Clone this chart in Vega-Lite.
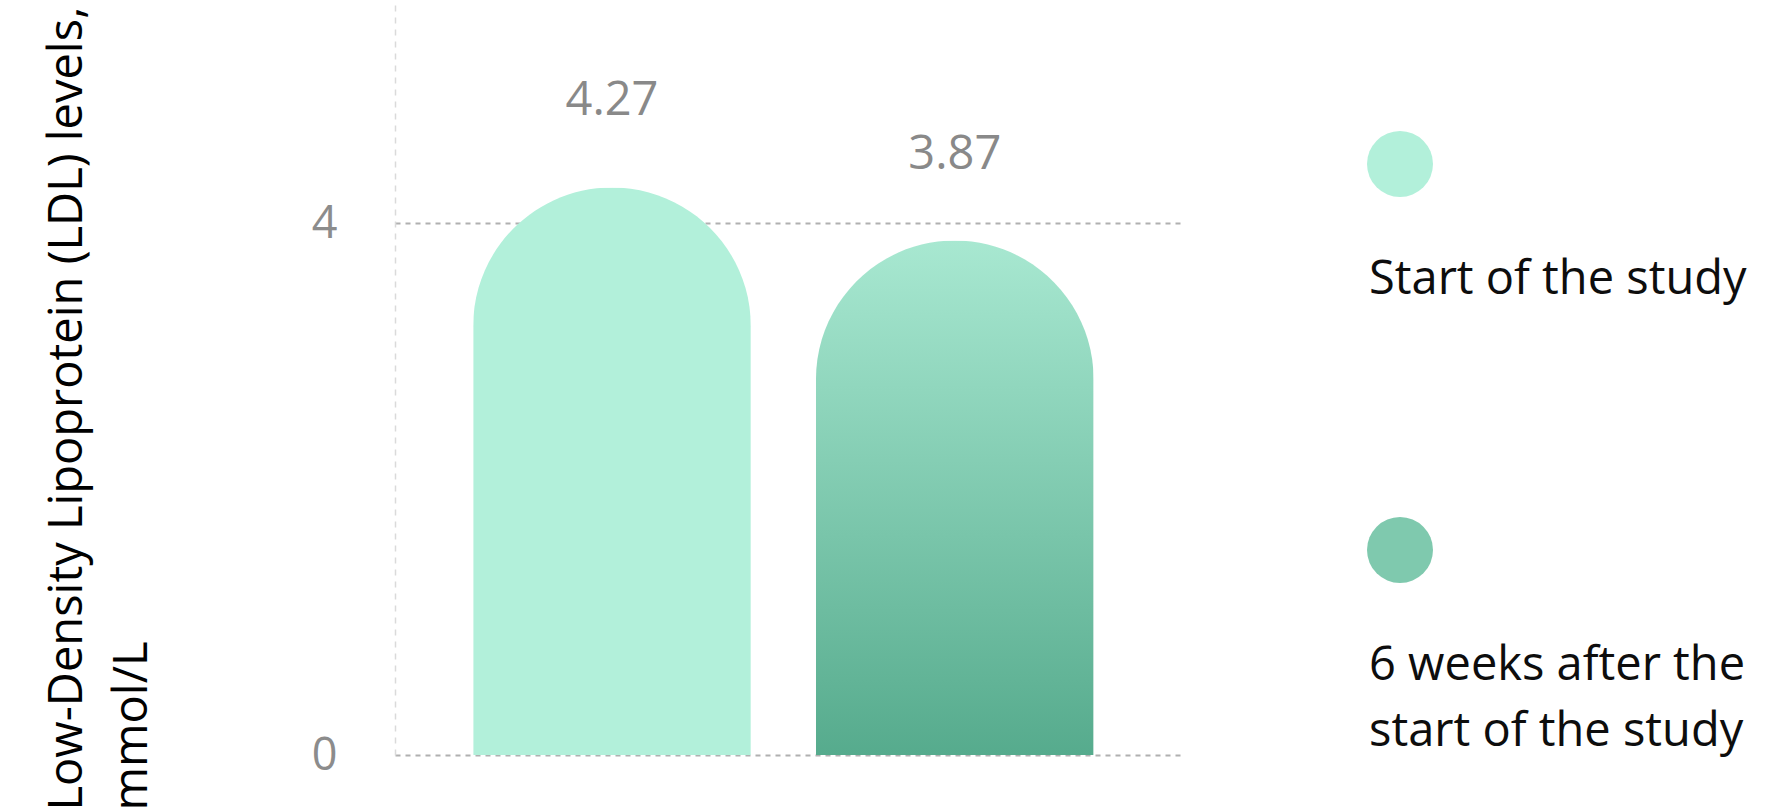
{
  "$schema": "https://vega.github.io/schema/vega-lite/v6.json",
  "width": 785,
  "height": 755,
  "autosize": {"type": "none"},
  "padding": {"left": 395, "top": 0, "right": 588, "bottom": 57},
  "background": "white",
  "data": {
    "values": [
      {"period": "Start of the study", "ldl": 4.27},
      {"period": "6 weeks after the start of the study", "ldl": 3.87}
    ]
  },
  "encoding": {
    "x": {
      "field": "period",
      "type": "nominal",
      "sort": null,
      "axis": null,
      "scale": {"paddingInner": 0.19, "paddingOuter": 0.24, "align": 0.475}
    },
    "y": {
      "field": "ldl",
      "type": "quantitative",
      "scale": {"domain": [0, 5.68], "nice": false, "zero": true},
      "axis": {
        "values": [0, 4],
        "title": ["Low-Density Lipoprotein (LDL) levels,", "mmol/L"],
        "titleFont": "Open Sans",
        "titleFontSize": 47,
        "titleFontWeight": "normal",
        "titleColor": "#000000",
        "titleAngle": -90,
        "titleAlign": "left",
        "titleBaseline": "alphabetic",
        "titleLineHeight": 65,
        "titleX": -314,
        "titleY": 810,
        "labelFont": "Open Sans",
        "labelFontSize": 45,
        "labelColor": "#8c8c8c",
        "labelPadding": 58,
        "labelOffset": -27,
        "ticks": false,
        "grid": true,
        "gridColor": "#b0b0b0",
        "gridDash": [5, 5],
        "gridWidth": 2,
        "domain": true,
        "domainColor": "#dadada",
        "domainDash": [6, 6],
        "domainWidth": 1.5
      }
    }
  },
  "layer": [
    {
      "mark": {
        "type": "bar",
        "cornerRadiusTopLeft": 139,
        "cornerRadiusTopRight": 139
      },
      "encoding": {
        "color": {
          "field": "period",
          "type": "nominal",
          "sort": null,
          "scale": {
            "domain": ["Start of the study", "6 weeks after the start of the study"],
            "range": ["#b2f0da", "#7fc9ae"]
          },
          "condition": {
            "test": "datum.period != 'Start of the study'",
            "value": {
              "gradient": "linear",
              "x1": 0, "y1": 0, "x2": 0, "y2": 1,
              "stops": [
                {"offset": 0, "color": "#a8e8d1"},
                {"offset": 1, "color": "#56ab8d"}
              ]
            }
          },
          "legend": {
            "title": null,
            "orient": "none",
            "legendX": 972,
            "legendY": 131,
            "direction": "vertical",
            "padding": 0,
            "symbolType": "circle",
            "symbolSize": 4356,
            "symbolStrokeWidth": 0,
            "labelFont": "Open Sans",
            "labelFontSize": 47,
            "labelColor": "#0d0d0d",
            "labelOffset": -64,
            "labelLimit": 0,
            "labelBaseline": "top",
            "rowPadding": 148,
            "labelExpr": "datum.label == 'Start of the study' ? [' ', ' ', 'Start of the study'] : [' ', ' ', '6 weeks after the', 'start of the study']"
          }
        }
      }
    },
    {
      "mark": {
        "type": "text",
        "font": "Open Sans",
        "fontSize": 47,
        "color": "#898989",
        "align": "center",
        "baseline": "alphabetic",
        "dy": -72
      },
      "encoding": {
        "text": {"field": "ldl", "type": "quantitative", "format": ".2f"}
      }
    }
  ],
  "config": {
    "view": {"stroke": null},
    "style": {"guide-label": {"lineHeight": 66, "dy": 27}}
  }
}
